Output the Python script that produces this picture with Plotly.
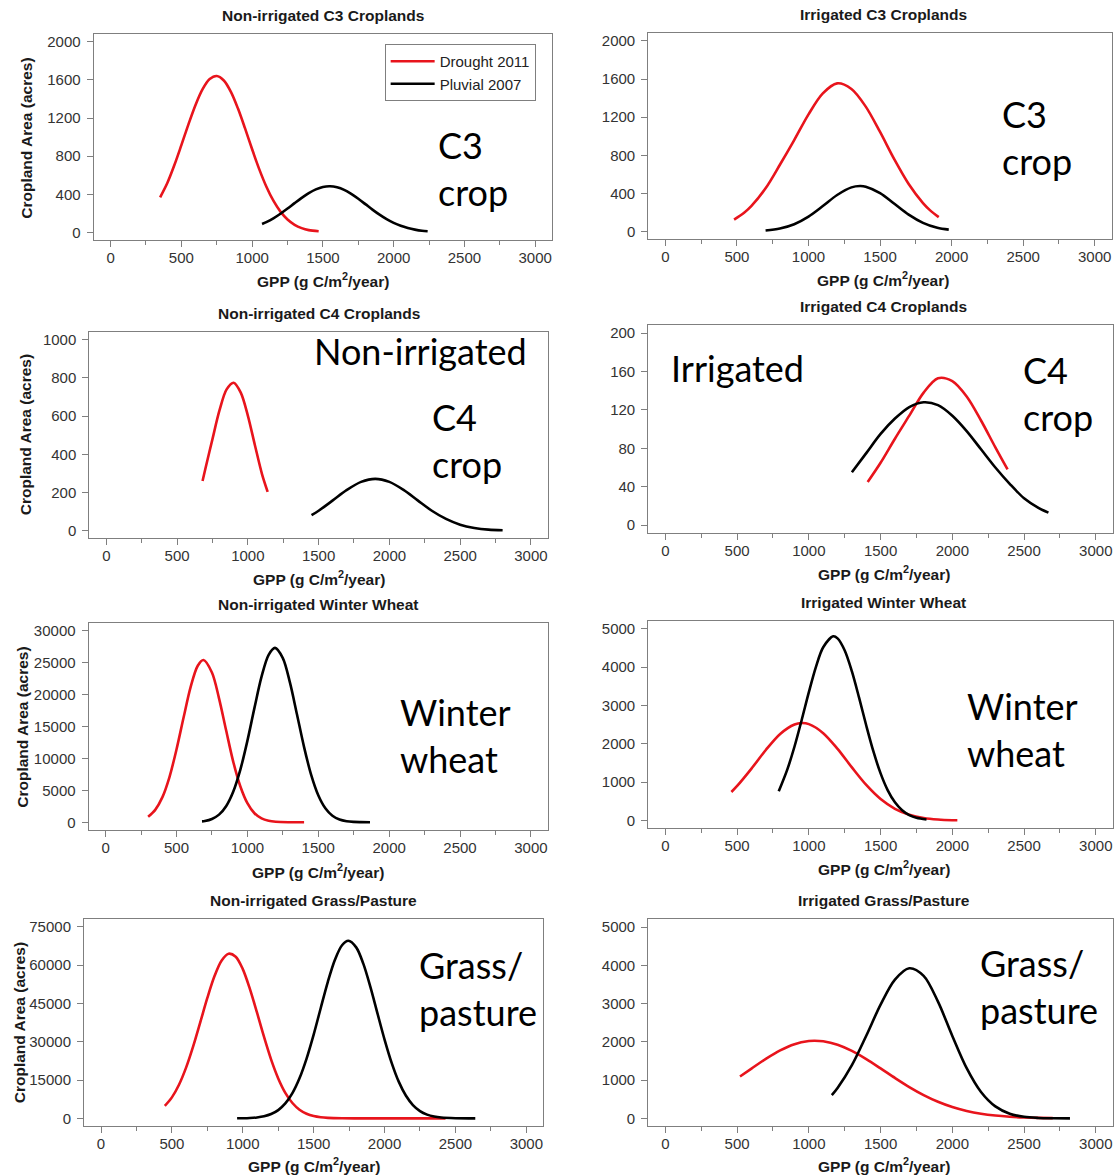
import plotly.graph_objects as go

W, H = 1114, 1176

# ---------------- data ----------------
titles = ["Non-irrigated C3 Croplands", "Irrigated C3 Croplands",
          "Non-irrigated C4 Croplands", "Irrigated C4 Croplands",
          "Non-irrigated Winter Wheat", "Irrigated Winter Wheat",
          "Non-irrigated Grass/Pasture", "Irrigated Grass/Pasture"]
series_names = ["Drought 2011", "Pluvial 2007"]
x_ticks = [0, 500, 1000, 1500, 2000, 2500, 3000]
y_ticks = [[0, 400, 800, 1200, 1600, 2000], [0, 400, 800, 1200, 1600, 2000],
           [0, 200, 400, 600, 800, 1000], [0, 40, 80, 120, 160, 200],
           [0, 5000, 10000, 15000, 20000, 25000, 30000], [0, 1000, 2000, 3000, 4000, 5000],
           [0, 15000, 30000, 45000, 60000, 75000], [0, 1000, 2000, 3000, 4000, 5000]]
x_axis_title = "GPP (g C/m<sup>2</sup>/year)"
y_axis_title = "Cropland Area (acres)"

# Non-irrigated C3
nc3_drought_x = [350, 400, 450, 500, 550, 600, 650, 700, 750, 800, 850, 900, 950, 1000, 1050, 1100, 1150, 1200, 1250, 1300, 1350, 1400, 1470]
nc3_drought_y = [370, 517, 705, 916, 1134, 1337, 1502, 1608, 1640, 1593, 1474, 1299, 1091, 873, 665, 483, 334, 220, 138, 82, 47, 26, 14]
nc3_pluvial_x = [1070, 1100, 1150, 1200, 1250, 1300, 1350, 1400, 1450, 1500, 1550, 1600, 1650, 1700, 1750, 1800, 1850, 1900, 1950, 2000, 2050, 2100, 2150, 2200, 2240]
nc3_pluvial_y = [90, 110, 150, 198, 252, 309, 364, 414, 453, 478, 485, 474, 447, 405, 354, 298, 241, 188, 141, 102, 71, 48, 31, 19, 14]
# Irrigated C3
ic3_drought_x = [480, 550, 600, 700, 800, 900, 1000, 1100, 1200, 1300, 1400, 1500, 1600, 1700, 1800, 1850, 1910]
ic3_drought_y = [126, 198, 267, 454, 701, 960, 1230, 1450, 1555, 1496, 1311, 1045, 757, 499, 299, 223, 152]
ic3_pluvial_x = [700, 800, 900, 1000, 1100, 1200, 1300, 1360, 1400, 1500, 1600, 1700, 1800, 1900, 1980]
ic3_pluvial_y = [12, 33, 78, 158, 268, 384, 464, 478, 471, 404, 292, 178, 92, 40, 21]
# Non-irrigated C4
nc4_drought_x = [680, 700, 750, 800, 850, 900, 950, 1000, 1050, 1100, 1140]
nc4_drought_y = [261, 325, 480, 631, 740, 775, 723, 603, 448, 297, 204]
nc4_pluvial_x = [1450, 1500, 1600, 1700, 1800, 1900, 2000, 2100, 2200, 2300, 2400, 2500, 2600, 2700, 2800]
nc4_pluvial_y = [82, 105, 159, 214, 256, 272, 256, 214, 159, 105, 62, 32, 15, 6, 3]
# Irrigated C4
ic4_drought_x = [1410, 1500, 1600, 1700, 1800, 1900, 2000, 2100, 2200, 2300, 2385]
ic4_drought_y = [45, 65, 90, 114, 138, 153, 150, 134, 109, 81, 58]
ic4_pluvial_x = [1300, 1400, 1500, 1600, 1700, 1800, 1900, 2000, 2100, 2200, 2300, 2400, 2500, 2600, 2670]
ic4_pluvial_y = [55, 75, 95, 111, 123, 128, 125, 114, 98, 79, 60, 43, 28, 18, 13]
# Non-irrigated Winter Wheat
nww_drought_x = [300, 350, 400, 450, 500, 550, 600, 650, 690, 750, 800, 850, 900, 950, 1000, 1050, 1100, 1150, 1200, 1300, 1400]
nww_drought_y = [870, 1950, 3900, 7050, 11400, 16400, 21200, 24500, 25400, 23450, 19400, 14400, 9500, 5650, 3000, 1420, 600, 230, 80, 10, 0]
nww_pluvial_x = [680, 700, 750, 800, 850, 900, 950, 1000, 1050, 1100, 1150, 1195, 1250, 1300, 1350, 1400, 1450, 1500, 1550, 1600, 1650, 1700, 1750, 1800, 1865]
nww_pluvial_y = [150, 200, 520, 1200, 2520, 4780, 8210, 12750, 17910, 22790, 26210, 27300, 25700, 21890, 16870, 11770, 7420, 4230, 2190, 1020, 430, 165, 60, 20, 0]
# Irrigated Winter Wheat
iww_drought_x = [460, 500, 600, 700, 800, 900, 950, 1000, 1100, 1200, 1300, 1400, 1500, 1600, 1700, 1800, 1900, 2000, 2035]
iww_drought_y = [746, 903, 1355, 1840, 2258, 2504, 2540, 2512, 2278, 1868, 1385, 928, 562, 308, 153, 68, 28, 10, 8]
iww_pluvial_x = [790, 850, 900, 950, 1000, 1050, 1100, 1170, 1200, 1250, 1300, 1350, 1400, 1450, 1500, 1550, 1600, 1650, 1700, 1750, 1820]
iww_pluvial_y = [762, 1334, 1930, 2621, 3345, 4010, 4515, 4800, 4746, 4430, 3886, 3202, 2477, 1800, 1230, 789, 476, 270, 144, 72, 30]
# Non-irrigated Grass/Pasture
ngp_drought_x = [450, 500, 550, 600, 650, 700, 750, 800, 850, 900, 950, 1000, 1050, 1100, 1150, 1200, 1250, 1300, 1350, 1400, 1450, 1500, 1550, 1600, 1700, 1800, 2000, 2200, 2430]
ngp_drought_y = [4900, 8220, 13180, 19870, 28180, 37580, 47140, 55600, 61720, 64450, 63270, 58420, 50700, 41450, 31850, 23000, 15650, 10000, 6020, 3400, 1810, 905, 425, 190, 30, 0, 0, 0, 0]
ngp_pluvial_x = [960, 1000, 1050, 1100, 1150, 1200, 1250, 1300, 1350, 1400, 1450, 1500, 1550, 1600, 1650, 1700, 1745, 1800, 1850, 1900, 1950, 2000, 2050, 2100, 2150, 2200, 2250, 2300, 2350, 2400, 2500, 2640]
ngp_pluvial_y = [30, 67, 166, 384, 833, 1700, 3250, 5850, 9890, 15690, 23420, 32800, 43210, 53440, 62080, 67760, 69500, 66920, 60550, 51480, 41100, 30840, 21740, 14380, 8940, 5230, 2870, 1480, 717, 326, 57, 0]
# Irrigated Grass/Pasture
igp_drought_x = [520, 600, 700, 800, 900, 1000, 1040, 1100, 1200, 1300, 1400, 1500, 1600, 1700, 1800, 1900, 2000, 2100, 2200, 2300, 2400, 2500, 2600, 2700]
igp_drought_y = [1096, 1302, 1557, 1779, 1941, 2022, 2030, 2015, 1925, 1764, 1550, 1307, 1057, 820, 610, 435, 298, 196, 123, 74, 43, 24, 13, 7]
igp_pluvial_x = [1160, 1200, 1300, 1400, 1500, 1600, 1700, 1800, 1900, 2000, 2100, 2200, 2300, 2400, 2500, 2600, 2700, 2820]
igp_pluvial_y = [608, 794, 1392, 2161, 2974, 3628, 3925, 3726, 3051, 2155, 1313, 690, 313, 122, 41, 12, 3, 0]

panel_series = [
    ((nc3_drought_x, nc3_drought_y), (nc3_pluvial_x, nc3_pluvial_y)),
    ((ic3_drought_x, ic3_drought_y), (ic3_pluvial_x, ic3_pluvial_y)),
    ((nc4_drought_x, nc4_drought_y), (nc4_pluvial_x, nc4_pluvial_y)),
    ((ic4_drought_x, ic4_drought_y), (ic4_pluvial_x, ic4_pluvial_y)),
    ((nww_drought_x, nww_drought_y), (nww_pluvial_x, nww_pluvial_y)),
    ((iww_drought_x, iww_drought_y), (iww_pluvial_x, iww_pluvial_y)),
    ((ngp_drought_x, ngp_drought_y), (ngp_pluvial_x, ngp_pluvial_y)),
    ((igp_drought_x, igp_drought_y), (igp_pluvial_x, igp_pluvial_y)),
]

# overlay labels: (text lines, left px, centre px)
overlay_labels = [
    ("C3<br>crop", 436, 168), ("C3<br>crop", 1001, 137),
    ("Non-irrigated", 312, 351), ("C4<br>crop", 430, 440),
    ("Irrigated", 670, 368), ("C4<br>crop", 1022, 393),
    ("Winter<br>wheat", 398, 736), ("Winter<br>wheat", 966, 730),
    ("Grass/<br>pasture", 417, 989), ("Grass/<br>pasture", 979, 987),
]

# ---------------- layout geometry (pixels) ----------------
# (px of x=0, px of x=3000, px of y=0, px of y=ymax)
geom = [(110.7, 535.7, 232, 40.7), (666, 1095.7, 231, 40),
        (106.4, 531.4, 530.7, 339.3), (666, 1096.8, 525, 332.7),
        (105.7, 531.4, 822.7, 630.7), (666, 1096.8, 821, 628.7),
        (101.1, 526.8, 1119.3, 927.3), (666, 1096.8, 1119.3, 927.7)]
title_y = [15, 14, 313, 306, 605, 603, 901, 901]
xtitle_y = [279, 278, 578, 573, 871, 868, 1166, 1166]
ytitle_pos = [(27, 137), None, (25, 434), None, (23, 727), None, (19, 1023), None]

colors = ["#e8141c", "#000000"]
FONT = "Liberation Sans, Arial, sans-serif"
BIG = "Lato, Open Sans, sans-serif"

fig = go.Figure()
layout = {}
annotations = []

def px(x):
    return x / W

def py(y):
    return 1 - y / H

for i in range(8):
    n = i + 1
    xa = "x" if n == 1 else f"x{n}"
    ya = "y" if n == 1 else f"y{n}"
    ymax = y_ticks[i][-1]
    for s, (xs, ys) in enumerate(panel_series[i]):
        fig.add_trace(go.Scatter(
            x=xs, y=ys, mode="lines", name=series_names[s],
            line=dict(color=colors[s], width=2.6, shape="spline", smoothing=0.9),
            xaxis=xa, yaxis=ya, showlegend=(i == 0), hoverinfo="skip"))
    x0, x3, y0, ym = geom[i]
    sx = (x3 - x0) / 3000.0
    sy = (y0 - ym) / ymax
    left = x0 - 120 * sx
    right = min(W, x0 + 3120 * sx)
    top = y0 - 1.04 * ymax * sy
    bottom = y0 + 0.04 * ymax * sy
    common = dict(showline=True, linecolor="#7f7f7f", linewidth=1, mirror=True,
                  showgrid=False, zeroline=False, ticks="outside", ticklen=6,
                  tickcolor="#7f7f7f", tickwidth=1,
                  tickfont=dict(family=FONT, size=15, color="#333333"))
    layout["xaxis" if n == 1 else f"xaxis{n}"] = dict(
        domain=[px(left), px(right)], range=[-120, 3120], anchor=ya,
        tickmode="array", tickvals=x_ticks, ticktext=[str(v) for v in x_ticks],
        ticklabelstandoff=-2,
        minor=dict(tickmode="linear", tick0=0, dtick=250, ticks="outside",
                   ticklen=4, tickcolor="#7f7f7f"),
        **common)
    layout["yaxis" if n == 1 else f"yaxis{n}"] = dict(
        domain=[py(bottom), py(top)], range=[-0.04 * ymax, 1.04 * ymax], anchor=xa,
        tickmode="array", tickvals=y_ticks[i], ticktext=[str(v) for v in y_ticks[i]],
        ticklabelstandoff=3,
        **common)
    cx = (left + right) / 2 + (3 if i % 2 else 0)
    annotations.append(dict(text=f"<b>{titles[i]}</b>", x=px(cx), y=py(title_y[i]),
                            xref="paper", yref="paper", xanchor="center", yanchor="middle",
                            showarrow=False, font=dict(family=FONT, size=15.5, color="#1a1a1a")))
    annotations.append(dict(text=f"<b>{x_axis_title}</b>", x=px(cx), y=py(xtitle_y[i]),
                            xref="paper", yref="paper", xanchor="center", yanchor="middle",
                            showarrow=False, font=dict(family=FONT, size=15.5, color="#1a1a1a")))
    if ytitle_pos[i] is not None:
        yx, yy = ytitle_pos[i]
        annotations.append(dict(text=f"<b>{y_axis_title}</b>", x=px(yx), y=py(yy),
                                xref="paper", yref="paper", xanchor="center", yanchor="middle",
                                textangle=-90, showarrow=False,
                                font=dict(family=FONT, size=15.5, color="#1a1a1a")))

for text, lx, cy in overlay_labels:
    annotations.append(dict(text=text, x=px(lx), y=py(cy), xref="paper", yref="paper",
                            xanchor="left", yanchor="middle", align="left", showarrow=False,
                            font=dict(family=BIG, size=36, color="#000000")))

fig.update_layout(
    width=W, height=H, margin=dict(l=0, r=0, t=0, b=0),
    paper_bgcolor="white", plot_bgcolor="white",
    annotations=annotations,
    legend=dict(x=px(385), y=py(43), xanchor="left", yanchor="top",
                bordercolor="#7f7f7f", borderwidth=1, bgcolor="white",
                font=dict(family=FONT, size=15, color="#222222"),
                itemwidth=44, tracegroupgap=0, traceorder="normal"),
    **layout)

fig.write_html("out.html", config={"displayModeBar": False, "staticPlot": True},
               post_script="document.body.style.margin='0';document.body.style.overflow='hidden';")
